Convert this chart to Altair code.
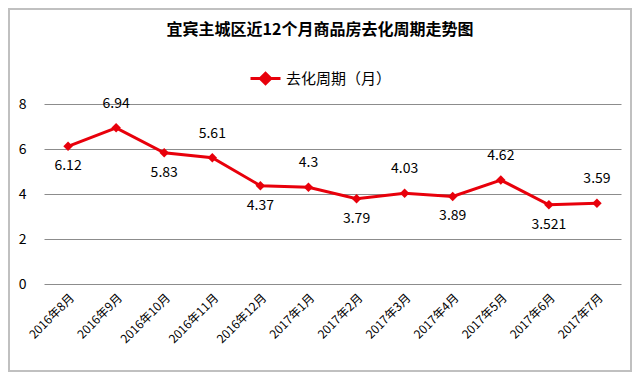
import altair as alt
import pandas as pd

months = ["2016年8月", "2016年9月", "2016年10月", "2016年11月", "2016年12月", "2017年1月",
          "2017年2月", "2017年3月", "2017年4月", "2017年5月", "2017年6月", "2017年7月"]
values = [6.12, 6.94, 5.83, 5.61, 4.37, 4.3, 3.79, 4.03, 3.89, 4.62, 3.521, 3.59]
labels = ["6.12", "6.94", "5.83", "5.61", "4.37", "4.3", "3.79", "4.03", "3.89", "4.62", "3.521", "3.59"]
series = "去化周期（月）"
title_text = "宜宾主城区近12个月商品房去化周期走势图"

df = pd.DataFrame({"month": months, "value": values, "label": labels, "series": [series] * len(months)})

FONT = "Noto Sans CJK SC"
RED = "#E8000B"

x = alt.X("month:N", sort=months, title=None,
          scale=alt.Scale(padding=0.5),
          axis=alt.Axis(labelAngle=-45, labelFont=FONT, labelFontSize=12, labelColor="#000",
                        ticks=False, domain=False, labelPadding=8, grid=False))
y = alt.Y("value:Q", title=None, scale=alt.Scale(domain=[0, 8]),
          axis=alt.Axis(values=[0, 2, 4, 6, 8], labelFont=FONT, labelFontSize=14, labelColor="#000",
                        ticks=False, domain=False, labelPadding=18, gridColor="#8c8c8c", gridWidth=1))

base = alt.Chart(df)
one = pd.DataFrame({"t": [title_text]})

border = alt.Chart(one).mark_rect(fillOpacity=0, stroke="#c0c0c0", strokeWidth=2).encode(
    x=alt.value(-35), x2=alt.value(587), y=alt.value(-95), y2=alt.value(267))

title = alt.Chart(one).mark_text(font=FONT, fontSize=16, fontWeight="bold", color="#000",
                                 align="center", baseline="middle").encode(
    x=alt.value(276), y=alt.value(-74), text="t:N")

line = base.mark_line(color=RED, strokeWidth=3).encode(
    x=x, y=y,
    color=alt.Color("series:N", scale=alt.Scale(range=[RED]),
                    legend=alt.Legend(title=None, orient="none", legendX=205, legendY=-42,
                                      symbolType="M-1,0H1M-0.35,0L0,-0.35L0.35,0L0,0.35Z",
                                      symbolStrokeWidth=3, symbolSize=900,
                                      symbolFillColor=RED, symbolStrokeColor=RED,
                                      labelFont=FONT, labelFontSize=15, labelColor="#000",
                                      labelOffset=4)))
pts = base.mark_point(shape="diamond", filled=True, color=RED, size=90, opacity=1).encode(x=x, y=y)

ranked = base.transform_window(idx="row_number()").transform_calculate(odd="datum.idx % 2")
txt_below = ranked.transform_filter("datum.odd == 1").mark_text(
    font=FONT, fontSize=14, color="#000", dy=20, baseline="middle").encode(x=x, y=y, text="label:N")
txt_above = ranked.transform_filter("datum.odd == 0").mark_text(
    font=FONT, fontSize=14, color="#000", dy=-24, baseline="middle").encode(x=x, y=y, text="label:N")

chart = alt.layer(border, title, line, pts, txt_below, txt_above).properties(
    width=577, height=180,
    autosize=alt.AutoSizeParams(type="none"),
    padding={"left": 36, "top": 96, "right": 11, "bottom": 88},
).configure_view(stroke=None)

chart.save("out.html", embed_options={"renderer": "svg", "actions": False})
